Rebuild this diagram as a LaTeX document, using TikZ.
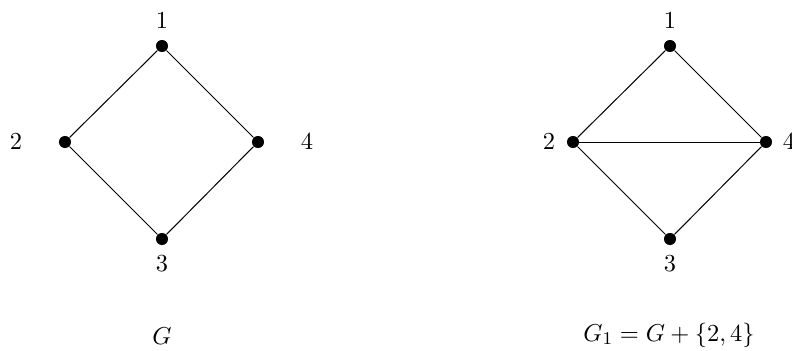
\documentclass[tikz,border=0pt]{standalone}
\usepackage{amsmath,amssymb}
\usepackage{tikz}
\usetikzlibrary{positioning}
\tikzset{
  % grafer
  vx/.style={circle,fill=black,draw=none,inner sep=0pt,minimum size=5.4pt},
  ed/.style={draw=black,line width=0.45pt},
  vl/.style={inner sep=1pt,font=\fontsize{10.8}{13}\selectfont},
}

\begin{document}
\begin{tikzpicture}[x=0.1575mm,y=-0.1575mm]
\useasboundingbox (0,0) rectangle (792,350);
  % G
  \node[vx] (a1) at (162,46) {};
  \node[vx] (a2) at (65,142) {};
  \node[vx] (a3) at (162,239) {};
  \node[vx] (a4) at (258,142) {};
  \node[vl] (la1) at (162,21) {$1$};
  \node[vl] (la2) at (16,142) {$2$};
  \node[vl] (la3) at (162,264) {$3$};
  \node[vl] (la4) at (307,142) {$4$};
  \draw[ed] (a1) -- (a2) -- (a3) -- (a4) -- (a1);
  \node[vl] (gG) at (162,336) {$G$};
  % G_1
  \node[vx] (b1) at (670,46) {};
  \node[vx] (b2) at (573,142) {};
  \node[vx] (b3) at (670,239) {};
  \node[vx] (b4) at (766,142) {};
  \node[vl] (lb1) at (670,21) {$1$};
  \node[vl] (lb2) at (549,142) {$2$};
  \node[vl] (lb3) at (670,264) {$3$};
  \node[vl] (lb4) at (789,142) {$4$};
  \draw[ed] (b1) -- (b2) -- (b3) -- (b4) -- (b1);
  \draw[ed] (b2) -- (b4);
  \node[vl] (gG1) at (669,335) {$G_1 = G + \{2,4\}$};
\end{tikzpicture}
\end{document}
